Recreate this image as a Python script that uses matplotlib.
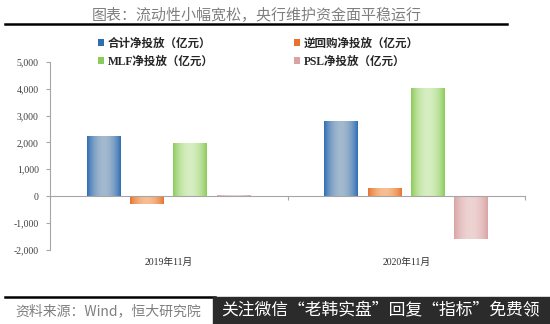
import numpy as np
import matplotlib
matplotlib.use("Agg")
import matplotlib.pyplot as plt
from matplotlib.colors import to_rgb
from matplotlib.transforms import blended_transform_factory

# ---- data ----
categories = ["2019年11月", "2020年11月"]
series_names = ["合计净投放（亿元）", "逆回购净投放（亿元）", "MLF净投放（亿元）", "PSL净投放（亿元）"]
total_net = [2240, 2810]
reverse_repo_net = [-280, 310]
mlf_net = [1990, 4020]
psl_net = [40, -1590]
yticks = [-2000, -1000, 0, 1000, 2000, 3000, 4000, 5000]
title_text = "图表：流动性小幅宽松，央行维护资金面平稳运行"
source_text = "资料来源：Wind，恒大研究院"
banner_text = "关注微信“老韩实盘”回复“指标”免费领"

edge_colors = ["#2E6DB4", "#E8722C", "#8CCB5A", "#D9A3A3"]
mid_colors = ["#A3B9CE", "#F6BE92", "#D6EEC2", "#EED3D3"]

fig = plt.figure(figsize=(5.5, 3.24), dpi=100)
fig.patch.set_facecolor("white")
ax = fig.add_axes([50/550, 1-249.6/324, 475/550, (249.6-62)/324])

values = [total_net, reverse_repo_net, mlf_net, psl_net]
x = np.arange(len(categories)) + 0.5
w = 0.143
step = 0.182
offsets = (np.arange(4) - 1.5) * step

handles = []
for i, vals in enumerate(values):
    bars = ax.bar(x + offsets[i], vals, width=w, color=edge_colors[i], zorder=2,
                  label=series_names[i], linewidth=0)
    handles.append(bars)
    # cylinder-like gradient inside each bar
    t = np.linspace(0, 1, 64)
    f = np.clip(np.sin(np.pi * t) ** 0.8, 0, 1)
    e = np.array(to_rgb(edge_colors[i]))
    m = np.array(to_rgb(mid_colors[i]))
    grad = (e[None, :] * (1 - f[:, None]) + m[None, :] * f[:, None])[None, :, :]
    for p in bars.patches:
        x0, y0 = p.get_x(), p.get_y()
        ww, hh = p.get_width(), p.get_height()
        im = ax.imshow(grad, extent=[x0, x0 + ww, y0, y0 + hh], aspect="auto",
                       zorder=3, interpolation="bilinear")
        im.set_clip_path(p)

ax.set_xlim(0, 2)
ax.set_ylim(-2000, 5000)

for s in ["top", "right"]:
    ax.spines[s].set_visible(False)
ax.spines["bottom"].set_position(("data", 0))
ax.spines["bottom"].set_color("#A6A6A6")
ax.spines["left"].set_color("#A6A6A6")
ax.spines["bottom"].set_zorder(4)

ax.set_yticks(yticks)
ax.set_yticklabels([f"{v:,}" for v in yticks], fontfamily="Liberation Serif",
                   fontsize=7, color="#404040")
ax.tick_params(axis="y", length=3, color="#A6A6A6", pad=5)
ax.set_xticks([0, 1, 2])
ax.set_xticklabels([])
ax.tick_params(axis="x", length=3, color="#A6A6A6", direction="out")

tr = blended_transform_factory(ax.transData, ax.transAxes)
for xi, c in zip(x, categories):
    ax.text(xi, -0.066, c, transform=tr, ha="center", va="center", fontsize=7,
            family=["Liberation Serif", "Noto Sans CJK SC"], color="#303030")

# legend: order to fill columns -> rows
order = [0, 2, 1, 3]
leg = fig.legend([handles[k] for k in order], [series_names[k] for k in order],
                 ncol=2, loc="upper left", bbox_to_anchor=(93/550, 1-33/324),
                 frameon=False, handlelength=0.55, handleheight=0.55, handletextpad=0.3,
                 columnspacing=7.0, labelspacing=0.5, borderaxespad=0,
                 prop={"family": ["Liberation Serif", "Noto Sans CJK SC"], "weight": "bold", "size": 8.3})
for tx in leg.get_texts():
    tx.set_color("#262626")

# title and rules
fig.text(257/550, 1-15/324, title_text, ha="center", va="center", fontsize=10.8,
         color="#7F7F7F", family=["Noto Sans CJK SC", "DejaVu Sans"])
fig.add_artist(plt.Line2D([5/550, 507/550], [1-24/324, 1-24/324], color="black", lw=1.8,
                          transform=fig.transFigure))
fig.add_artist(plt.Line2D([5/550, 215/550], [1-297/324, 1-297/324], color="black", lw=1.8,
                          transform=fig.transFigure))

fig.text(15/550, 1-311/324, source_text, ha="left", va="center", fontsize=10,
         color="#7F7F7F", style="italic", family=["Noto Sans CJK SC", "DejaVu Sans"])

fig.add_artist(plt.Rectangle((213/550, 0), 337/550, 27/324, transform=fig.transFigure,
                             color="#2B2B2B", zorder=5))
fig.text(221/550, 1-311/324, banner_text, ha="left", va="center", fontsize=12.1,
         color="white", family=["Noto Sans CJK SC", "DejaVu Sans"], zorder=6)

fig.savefig("out.png", dpi=100)
